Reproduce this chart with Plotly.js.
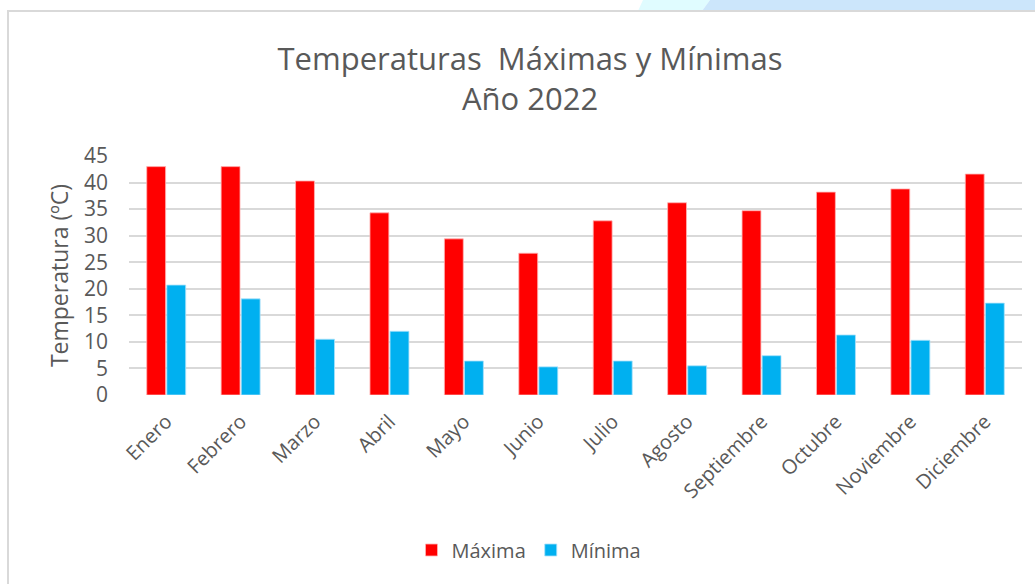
<!DOCTYPE html>
<html>
<head>
<meta charset="utf-8">
<script src="https://cdn.plot.ly/plotly-3.0.1.min.js"></script>
<style>
  html, body { margin: 0; padding: 0; background: #ffffff; width: 1035px; height: 584px; overflow: hidden; }
  #bg1 { position: absolute; left: 0; top: 0; width: 1035px; height: 11px; background: #e0fcff;
         clip-path: polygon(638px 11px, 643px 0px, 710px 0px, 702px 11px); }
  #bg2 { position: absolute; left: 0; top: 0; width: 1035px; height: 11px; background: #cce6fb;
         clip-path: polygon(702px 11px, 710px 0px, 1035px 0px, 1035px 11px); }
  #frame { position: absolute; left: 7px; top: 10px; width: 1040px; height: 600px;
           border-left: 2px solid #d9d9d9; border-top: 2px solid #d9d9d9; background: #fff; }
  #chart { position: absolute; left: 0; top: 0; width: 1035px; height: 584px; }
</style>
</head>
<body>
<div id="bg1"></div>
<div id="bg2"></div>
<div id="frame"></div>
<div id="chart"></div>
<script>
const months = ["Enero","Febrero","Marzo","Abril","Mayo","Junio","Julio","Agosto","Septiembre","Octubre","Noviembre","Diciembre"];
const maxima = [43, 43, 40.3, 34.3, 29.4, 26.7, 32.8, 36.2, 34.7, 38.2, 38.8, 41.6];
const minima = [20.7, 18.1, 10.5, 12.0, 6.4, 5.3, 6.4, 5.5, 7.4, 11.3, 10.3, 17.3];
const yTicks = [0, 5, 10, 15, 20, 25, 30, 35, 40, 45];

const gray = "#595959";
const font = "Open Sans, Noto Sans, sans-serif";

const traces = [
  { type: "bar", name: "Máxima", x: months, y: maxima,
    marker: { color: "#ff0000", line: { color: "rgba(255,180,180,0.8)", width: 1 } } },
  { type: "bar", name: "Mínima", x: months, y: minima,
    marker: { color: "#00b0f0", line: { color: "rgba(170,225,250,0.8)", width: 1 } } }
];

const layout = {
  width: 1035, height: 584,
  paper_bgcolor: "rgba(0,0,0,0)", plot_bgcolor: "rgba(0,0,0,0)",
  margin: { l: 129, r: 13, t: 156, b: 189 },
  barmode: "group", bargap: 0.46, bargroupgap: 0.06,
  font: { family: font, color: gray },
  title: {
    text: "Temperaturas\u00a0 Máximas y Mínimas<br>Año 2022",
    font: { size: 31, color: gray, family: font },
    xref: "container", x: 530 / 1035, xanchor: "center",
    yref: "container", y: (584 - 70) / 584, yanchor: "middle"
  },
  xaxis: {
    tickangle: -45, tickfont: { size: 20, color: gray, family: font },
    showgrid: false, zeroline: false, showline: false, ticks: "", fixedrange: true,
    ticklabelstandoff: 10
  },
  yaxis: {
    range: [0, 45], tickvals: yTicks, ticktext: yTicks.map(String),
    tickfont: { size: 21, color: gray, family: font },
    gridcolor: "#d9d9d9", gridwidth: 2, zeroline: false, showline: false, ticks: "",
    ticklabelstandoff: 20,
    title: { text: "Temperatura (ºC)", font: { size: 23, color: gray, family: font }, standoff: 8 }
  },
  showlegend: true,
  legend: {
    orientation: "h", xref: "container", x: 529 / 1035, xanchor: "center",
    yref: "container", y: (584 - 550) / 584, yanchor: "middle",
    font: { size: 20, color: gray, family: font }, itemwidth: 30, traceorder: "normal"
  }
};

Plotly.newPlot("chart", traces, layout, { displayModeBar: false, staticPlot: true });
</script>
</body>
</html>
